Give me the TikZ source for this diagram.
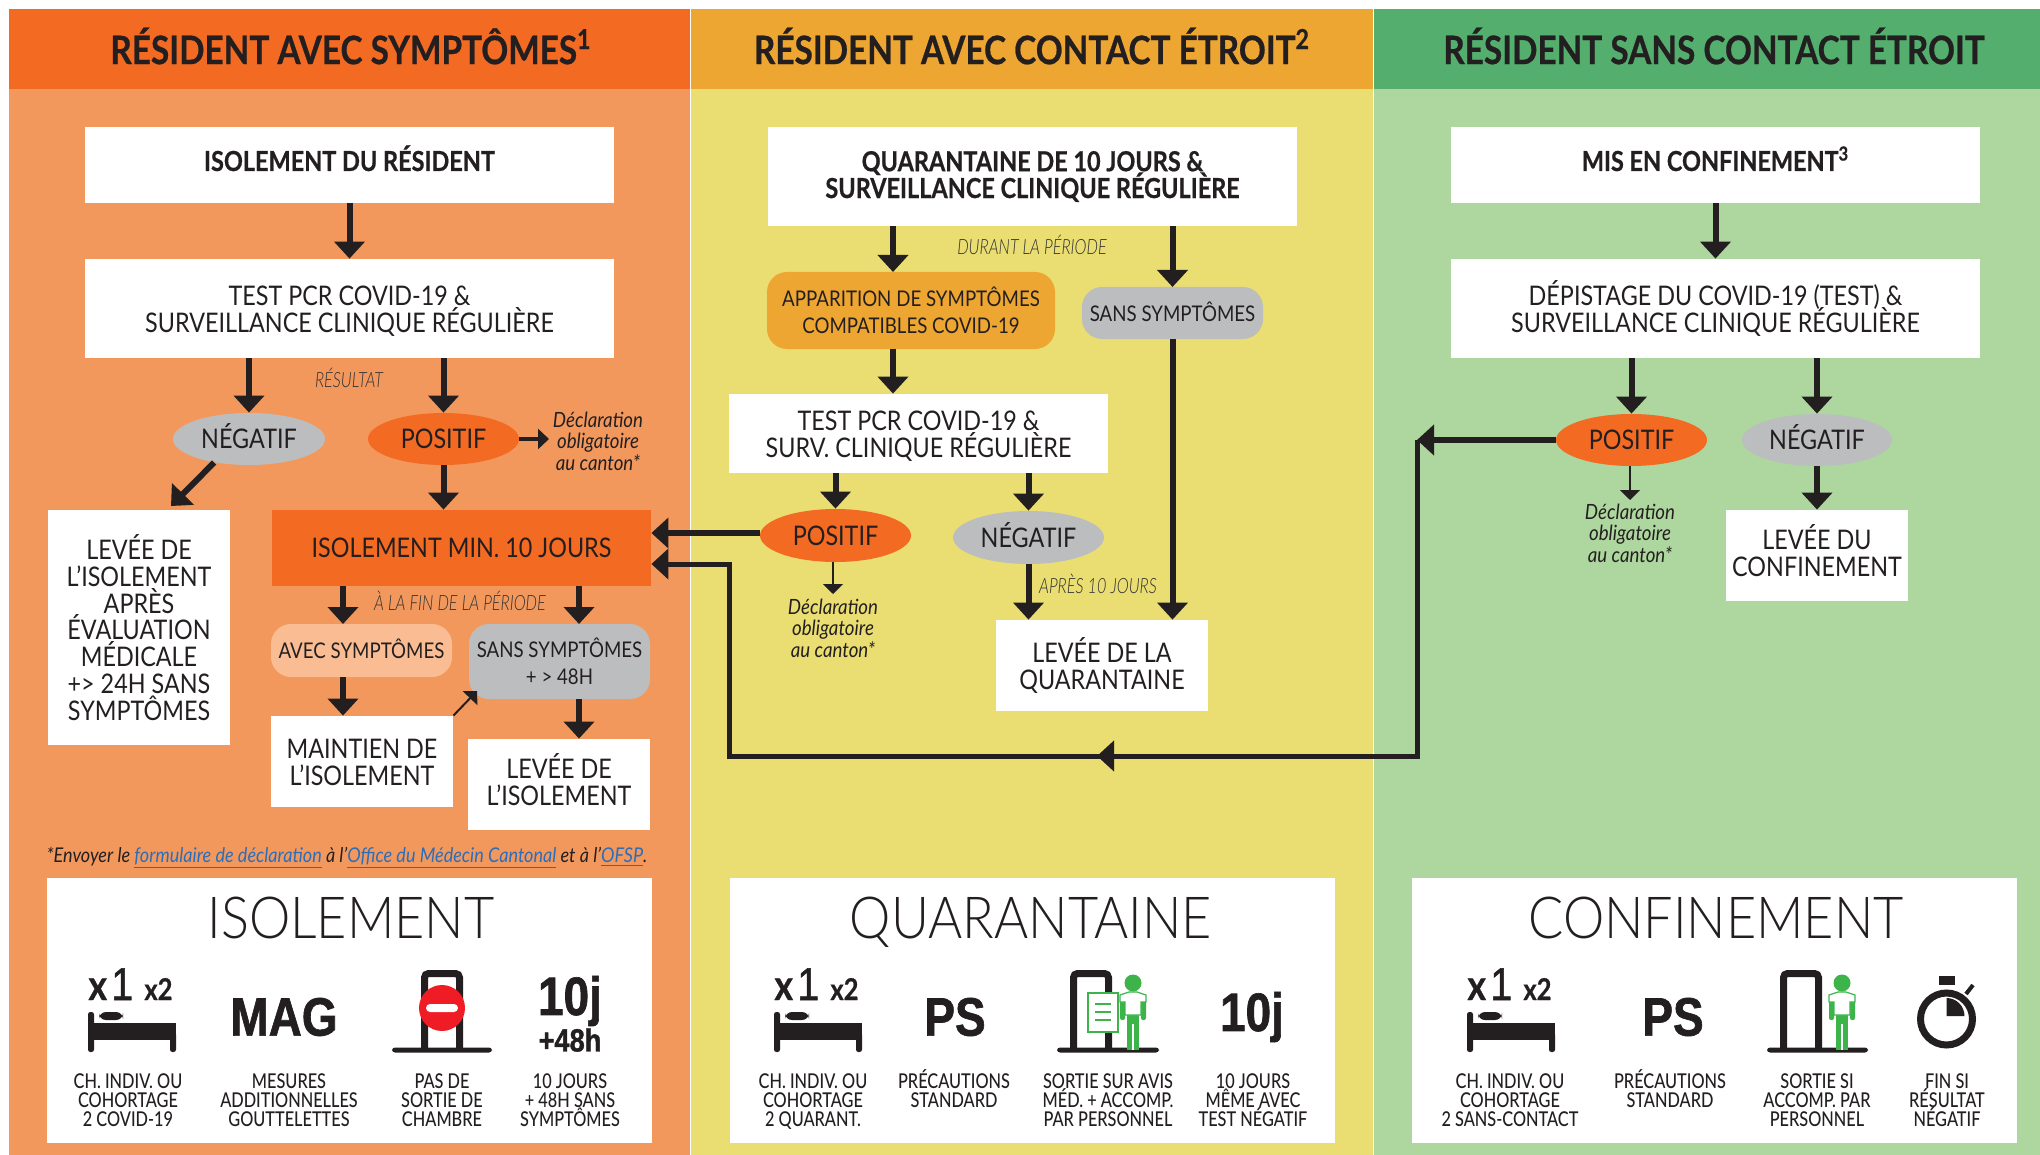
\documentclass[tikz,border=0pt]{standalone}
\usepackage{fontspec}
\setmainfont[FakeStretch=0.865]{Lato}
\newfontfamily\headfont[FakeStretch=0.85,FakeBold=0.6]{Lato Bold}
\newfontfamily\titlefont[FakeStretch=0.9]{Lato Light}
\newfontfamily\notefont[FakeStretch=0.77]{Lato Light}
\newfontfamily\declfont[FakeStretch=0.89]{Lato}
\newfontfamily\capfont[FakeStretch=0.8]{Lato Medium}
\newfontfamily\iconfont[FakeStretch=0.85,FakeBold=1.2]{Liberation Sans}
\usetikzlibrary{positioning,shapes.geometric,arrows.meta}
\setlength{\lineskiplimit}{-100pt}
\definecolor{orangehead}{HTML}{F36A23}
\definecolor{orangebody}{HTML}{F3985C}
\definecolor{orangesoft}{HTML}{FABD93}
\definecolor{yellowhead}{HTML}{EEA632}
\definecolor{yellowbody}{HTML}{EADE72}
\definecolor{greenhead}{HTML}{54AE6E}
\definecolor{greenbody}{HTML}{ADD79E}
\definecolor{personalgreen}{HTML}{3CB44A}
\definecolor{stopred}{HTML}{EF1C25}
\definecolor{greyoval}{HTML}{BBBDBF}
\definecolor{inkdark}{HTML}{231F20}
\definecolor{linkblue}{HTML}{2A6EBB}
\newcommand{\lnk}[1]{\textcolor{linkblue}{\underline{#1}}}
\newcommand{\doormark}[4]{
\draw[doorline] (#1,1050) -- (#1,973.5) -- (#2,973.5) -- (#2,1050);
\fill[inkdark,rounded corners=1.5pt] (#3,1047.5) rectangle (#4,1052.5);
}
\newcommand{\staff}[1]{
\begin{scope}[shift={(#1,0)}]
\fill[personalgreen] (0,983) circle[radius=8.5];
\fill[personalgreen] (-6,1014) rectangle (6,1050);
\draw[white,line width=.6pt] (0,1024) -- (0,1050);
\fill[personalgreen,rounded corners=1pt] (-13,1000) rectangle (-8,1020);
\fill[personalgreen,rounded corners=1pt] (8,1000) rectangle (13,1020);
\draw[personalgreen,fill=white,line width=.6pt] (-13,1002) -- (-13,995) -- (-4,992) -- (4,992) -- (13,995) -- (13,1002) -- (8,1002) -- (8,1015) -- (-8,1015) -- (-8,1002) -- cycle;
\end{scope}
}
\begin{document}
\begin{tikzpicture}[x=0.5pt,y=-0.5pt]
\tikzset{wh/.style 2 args={minimum width=#1*0.5pt,minimum height=#2*0.5pt}}
\tikzstyle{head}=[inner sep=0pt,text=inkdark,font=\fontsize{19.6}{21}\headfont]
\tikzstyle{box}=[rectangle,fill=white,inner sep=0pt,align=center,text=inkdark,font=\fontsize{13.5}{13.4}\selectfont]
\tikzstyle{low}=[text height=23.5pt,text depth=0pt]
\tikzstyle{high}=[text height=20.5pt,text depth=0pt]
\tikzstyle{boxbold}=[box,font=\fontsize{13.8}{13.4}\headfont]
\tikzstyle{oval}=[ellipse,inner sep=0pt,text=inkdark,text height=9.7pt,text depth=0pt,font=\fontsize{13.5}{13.4}\selectfont]
\tikzstyle{pill}=[rectangle,rounded corners=10pt,inner sep=0pt,align=center,text=inkdark,font=\fontsize{10.8}{13.5}\selectfont]
\tikzstyle{note}=[inner sep=0pt,text=black!80,font=\fontsize{10.5}{12}\notefont\itshape]
\tikzstyle{decl}=[inner sep=0pt,align=center,text=inkdark,font=\fontsize{10.5}{10.8}\declfont\itshape]
\tikzstyle{plate}=[rectangle,fill=white,inner sep=0pt]
\tikzstyle{plateword}=[inner sep=0pt,anchor=base,text=inkdark,font=\fontsize{29}{30}\titlefont]
\tikzstyle{icontext}=[inner sep=0pt,align=center,anchor=north,text=inkdark,font=\fontsize{10.2}{9.5}\capfont]
\tikzstyle{heavy}=[inner sep=0pt,text=inkdark,font=\fontsize{27}{27}\iconfont\bfseries]
\tikzstyle{doorline}=[inkdark,line width=3.5pt,rounded corners=2pt]
\tikzstyle{connect}=[inkdark,line width=3pt,-{Triangle[length=8.5pt,width=15pt]}]
\tikzstyle{plain}=[inkdark,line width=2.5pt]
\tikzstyle{thin}=[inkdark,line width=1pt,-{Triangle[length=5pt,width=10pt]}]
\useasboundingbox (0,0) rectangle (2040,1155);

% panels
\fill[orangebody] (9,9) rectangle (690,1155);
\fill[yellowbody] (691,9) rectangle (1373,1155);
\fill[greenbody] (1374,9) rectangle (2040,1155);
\fill[orangehead] (9,9) rectangle (690,89);
\fill[yellowhead] (691,9) rectangle (1373,89);
\fill[greenhead] (1374,9) rectangle (2040,89);
\node[head] (h_1) at (351,46) {RÉSIDENT AVEC SYMPTÔMES\textsuperscript{1}};
\node[head] (h_2) at (1032,46) {RÉSIDENT AVEC CONTACT ÉTROIT\textsuperscript{2}};
\node[head] (h_3) at (1714,46) {RÉSIDENT SANS CONTACT ÉTROIT};

% first column
\node[boxbold,wh={529}{76}] (iso_1) at (349.5,165) {\raisebox{-3pt}[0pt][0pt]{ISOLEMENT DU RÉSIDENT}};
\node[box,low,wh={529}{99}] (test_1) at (349.5,308.5) {TEST PCR COVID-19 \&\\SURVEILLANCE CLINIQUE RÉGULIÈRE};
\node[note] (res_1) at (349,378) {RÉSULTAT};
\node[oval,fill=greyoval,wh={152}{52}] (neg_1) at (249,439) {NÉGATIF};
\node[oval,fill=orangehead,wh={151}{52}] (pos_1) at (443.5,439) {POSITIF};
\node[decl] (decl_1) at (598,441) {Déclaration\\obligatoire\\au canton*};
\node[box,wh={182}{235}] (lev_1) at (139,627.5) {LEVÉE DE\\L’ISOLEMENT\\APRÈS\\ÉVALUATION\\MÉDICALE\\+> 24H SANS\\SYMPTÔMES};
\node[box,fill=orangehead,wh={379}{76}] (min_1) at (461.5,548) {ISOLEMENT MIN. 10 JOURS};
\node[note] (fin_1) at (460,601) {À LA FIN DE LA PÉRIODE};
\node[pill,fill=orangesoft,wh={181}{53},text height=7.75pt,text depth=0pt] (avec_1) at (361.5,650.5) {AVEC SYMPTÔMES};
\node[pill,fill=greyoval,wh={181}{75}] (sans_1) at (559.5,661.5) {SANS SYMPTÔMES\\+ > 48H};
\node[box,low,wh={182}{91}] (main_1) at (362,761.5) {MAINTIEN DE\\L’ISOLEMENT};
\node[box,high,wh={182}{91}] (fin_2) at (559,784.5) {LEVÉE DE\\L’ISOLEMENT};
\coordinate (a_1) at (343,624);
\coordinate (a_2) at (579,624);
\coordinate (a_3) at (171,506);
\coordinate (a_4) at (477,691);
\coordinate (a_5) at (549,439);

\draw[connect] (iso_1) -- (test_1);
\draw[connect] (test_1.south -| neg_1.north) -- (neg_1.north);
\draw[connect] (test_1.south -| pos_1.north) -- (pos_1.north);
\draw[connect] (pos_1.south) -- (min_1.north -| pos_1.south);
\draw[connect] (neg_1.214) -- (a_3);
\draw[inkdark,line width=2pt,-{Triangle[length=5.5pt,width=10pt]}] (pos_1.east) -- (a_5);
\draw[connect] (min_1.south -| a_1) -- (a_1);
\draw[connect] (min_1.south -| a_2) -- (a_2);
\draw[connect] (avec_1.south -| a_1) -- (main_1.north -| a_1);
\draw[connect] (sans_1.south -| a_2) -- (fin_2.north -| a_2);
\draw[thin] (main_1.north east) -- (a_4);

\node[inner sep=0pt,text=inkdark,font=\fontsize{10.15}{11}\declfont\itshape] (foot) at (347,858) {*Envoyer le \lnk{formulaire de déclaration} à l’\lnk{Office du Médecin Cantonal} et à l’\lnk{OFSP}.};

% second column
\node[boxbold,wh={529}{99}] (quar_2) at (1032.5,176.5) {QUARANTAINE DE 10 JOURS \&\\SURVEILLANCE CLINIQUE RÉGULIÈRE};
\node[note] (dur_2) at (1032,245) {DURANT LA PÉRIODE};
\node[pill,fill=yellowhead,wh={288}{77}] (app_2) at (911,310.5) {APPARITION DE SYMPTÔMES\\COMPATIBLES COVID-19};
\node[pill,fill=greyoval,wh={181}{52}] (sans_2) at (1172.5,313) {\raisebox{1pt}{SANS SYMPTÔMES}};
\node[box,low,wh={379}{79}] (test_2) at (918.5,433.5) {TEST PCR COVID-19 \&\\SURV. CLINIQUE RÉGULIÈRE};
\node[oval,fill=orangehead,wh={151}{53}] (pos_2) at (835.5,535.5) {POSITIF};
\node[oval,fill=greyoval,wh={151}{53}] (neg_2) at (1028.5,537.5) {NÉGATIF};
\node[decl] (decl_2) at (833,628) {Déclaration\\obligatoire\\au canton*};
\node[note] (apr_2) at (1098,584) {APRÈS 10 JOURS};
\node[box,wh={212}{91}] (lev_2) at (1102,665.5) {LEVÉE DE LA\\QUARANTAINE};
\coordinate (b_1) at (893,272);
\coordinate (b_2) at (1172.5,287);
\coordinate (b_3) at (833,594);

\draw[connect] (quar_2.south -| b_1) -- (b_1);
\draw[connect] (quar_2.south -| b_2) -- (b_2);
\draw[connect] (app_2.south -| b_1) -- (test_2.north -| b_1);
\draw[connect] (test_2.south -| pos_2.north) -- (pos_2.north);
\draw[connect] (test_2.south -| neg_2.north) -- (neg_2.north);
\draw[connect] (neg_2.south) -- (lev_2.north -| neg_2.south);
\draw[connect] (sans_2.south) -- (lev_2.north -| sans_2.south);
\draw[thin] (pos_2.south -| b_3) -- (b_3);
\draw[connect] ([yshift=1.25pt]pos_2.west) -- ([yshift=1.25pt]pos_2.west -| min_1.east);

% third column
\node[boxbold,wh={529}{76}] (conf_3) at (1715.5,165) {\raisebox{-3pt}[0pt][0pt]{MIS EN CONFINEMENT\textsuperscript{3}}};
\node[box,low,wh={529}{99}] (dep_3) at (1715.5,308.5) {DÉPISTAGE DU COVID-19 (TEST) \&\\SURVEILLANCE CLINIQUE RÉGULIÈRE};
\node[oval,fill=orangehead,wh={151}{52}] (pos_3) at (1631.5,440) {POSITIF};
\node[oval,fill=greyoval,wh={150}{52}] (neg_3) at (1817,440) {NÉGATIF};
\node[decl] (decl_3) at (1630,533) {Déclaration\\obligatoire\\au canton*};
\node[box,high,wh={182}{91}] (lev_3) at (1817,555.5) {LEVÉE DU\\CONFINEMENT};
\coordinate (c_1) at (1417,440);
\coordinate (c_2) at (1417,756);
\coordinate (c_3) at (1097,756);
\coordinate (c_4) at (729,756);
\coordinate (c_5) at (729,564);
\coordinate (c_6) at (1630,500);

\draw[connect] (conf_3) -- (dep_3);
\draw[connect] (dep_3.south -| pos_3.north) -- (pos_3.north);
\draw[connect] (dep_3.south -| neg_3.north) -- (neg_3.north);
\draw[connect] (neg_3.south) -- (lev_3.north);
\draw[thin] (pos_3.south -| c_6) -- (c_6);
\draw[plain] (c_1) -- (c_2) -- (c_3);
\draw[connect] (pos_3.west) -- (c_1);
\draw[connect,line width=2.5pt] (c_2) -- (c_3);
\draw[connect,line width=2.5pt] (c_3) -- (c_4) -- (c_5) -- (c_5 -| min_1.east);

% bottom plates
\node[plate,wh={605}{265}] (p_1) at (349.5,1010.5) {};
\node[plate,wh={605}{265}] (p_2) at (1032.5,1010.5) {};
\node[plate,wh={605}{265}] (p_3) at (1714.5,1010.5) {};
\node[plateword] (w_1) at (351,938) {ISOLEMENT};
\node[plateword] (w_2) at (1031,938) {QUARANTAINE};
\node[plateword] (w_3) at (1716,938) {CONFINEMENT};

% beds
\foreach \bx/\bn in {88/a,774/b,1467/c}{
\begin{scope}[shift={(\bx,1012)}]
\fill[inkdark,rounded corners=1.2pt] (0,0) rectangle (6,40);
\fill[inkdark] (0,11) rectangle (88,28);
\fill[inkdark,rounded corners=1.2pt] (82,20) rectangle (88,40);
\fill[inkdark,rounded corners=3.5pt] (11,0) rectangle (35,8);
\node[inner sep=0pt,text=inkdark,anchor=base west,font=\fontsize{21}{21}\headfont] (xa\bn) at (0,-12) {x};
\node[inner sep=0pt,text=inkdark,anchor=base west,font=\fontsize{23}{23}\iconfont] (xb\bn) at (23,-12) {1};
\node[inner sep=0pt,text=inkdark,anchor=base west,font=\fontsize{15}{15}\headfont] (xc\bn) at (56,-12) {x2};
\end{scope}
}

% icons of first plate
\node[heavy] (mag) at (284,1017) {MAG};
\doormark{424.5}{459.5}{392}{492}
\fill[stopred] (442,1008) circle[radius=23];
\fill[white,rounded corners=2pt] (426,1004) rectangle (458,1012);
\node[heavy] (ten_1) at (570,1001) {10j};
\node[inner sep=0pt,text=inkdark,font=\fontsize{16}{16}\iconfont\bfseries] (ten_1b) at (570,1040) {+48h};

% icons of second plate
\node[heavy] (ps_2) at (955,1017) {PS};
\doormark{1073.5}{1108.5}{1057}{1159}
\staff{1133}
\draw[personalgreen,fill=white,line width=1.3pt] (1088,993) rectangle (1118,1032);
\foreach \ly in {1004,1012,1020}{\draw[personalgreen,line width=1.3pt] (1095,\ly) -- (1111,\ly);}
\node[heavy] (ten_2) at (1252,1017) {10j};

% icons of third plate
\node[heavy] (ps_3) at (1673,1017) {PS};
\doormark{1783.5}{1818.5}{1767}{1868}
\staff{1842}
\fill[inkdark] (1939,976) rectangle (1955,985);
\draw[inkdark,line width=2pt] (1966,994) -- (1973,985);
\draw[inkdark,line width=3.5pt] (1946.5,1019) circle[radius=26];
\fill[inkdark] (1946.5,1016) -- (1946.5,998) arc[start angle=-90,end angle=0,radius=18] -- cycle;

% icon captions
\node[icontext] (t_1) at (128,1073) {CH. INDIV. OU\\COHORTAGE\\2 COVID-19};
\node[icontext] (t_2) at (289,1073) {MESURES\\ADDITIONNELLES\\GOUTTELETTES};
\node[icontext] (t_3) at (442,1073) {PAS DE\\SORTIE DE\\CHAMBRE};
\node[icontext] (t_4) at (570,1073) {10 JOURS\\+ 48H SANS\\SYMPTÔMES};
\node[icontext] (t_5) at (813,1073) {CH. INDIV. OU\\COHORTAGE\\2 QUARANT.};
\node[icontext] (t_6) at (954,1069) {PRÉCAUTIONS\\STANDARD};
\node[icontext] (t_7) at (1108,1073) {SORTIE SUR AVIS\\MÉD. + ACCOMP.\\PAR PERSONNEL};
\node[icontext] (t_8) at (1253,1073) {10 JOURS\\MÊME AVEC\\TEST NÉGATIF};
\node[icontext] (t_9) at (1510,1073) {CH. INDIV. OU\\COHORTAGE\\2 SANS-CONTACT};
\node[icontext] (t_10) at (1670,1069) {PRÉCAUTIONS\\STANDARD};
\node[icontext] (t_11) at (1817,1073) {SORTIE SI\\ACCOMP. PAR\\PERSONNEL};
\node[icontext] (t_12) at (1947,1073) {FIN SI\\RÉSULTAT\\NÉGATIF};
\end{tikzpicture}
\end{document}
